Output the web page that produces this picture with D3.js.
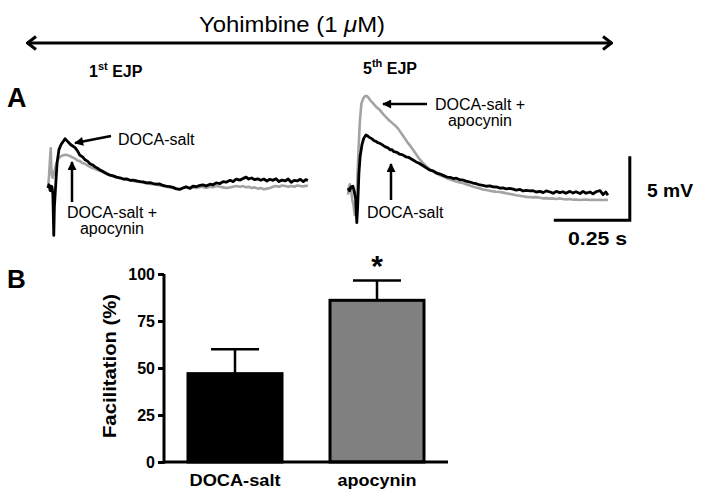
<!DOCTYPE html>
<html><head><meta charset="utf-8">
<script src="https://cdn.jsdelivr.net/npm/d3@7"></script>
<style>body{margin:0;background:#fff}svg{display:block}text{font-family:"Liberation Sans",Arial,sans-serif}</style>
</head><body><svg id="c" width="702" height="498"></svg>
<script>
// ---------- DATA ----------
// Panel A traces: [time (ms), membrane potential (mV) relative to baseline]
const ejp1Doca = [[0,0],[3,0.25],[7,-0.2],[10,0.15],[13,0.1],[16,-0.5],[19,-3.7],[21,-1.5],[26,0.5],[30,2.0],[36,3.0],[43,3.4],[49,3.6],[56,3.85],[62,3.7],[68,3.55],[74,3.4],[80,3.3],[89,3.15],[97,2.9],[105,2.55],[113,2.45],[122,2.2],[130,2.1],[138,1.9],[147,1.8],[155,1.65],[163,1.55],[171,1.4],[180,1.3],[188,1.2],[196,1.1],[204,1.0],[215,0.95],[225,0.85],[237,0.8],[248,0.7],[258,0.72],[270,0.6],[280,0.62],[292,0.55],[303,0.5],[313,0.48],[324,0.4],[336,0.42],[346,0.35],[357,0.3],[368,0.32],[378,0.2],[388,0.15],[401,0.1],[411,0.05],[421,-0.05],[434,-0.1],[444,0.0],[454,0.1],[467,-0.02],[477,0.15],[487,0.1],[500,0.2],[510,0.25],[520,0.15],[533,0.3],[543,0.25],[553,0.4],[566,0.35],[576,0.5],[586,0.45],[599,0.6],[609,0.5],[619,0.7],[632,0.62],[642,0.75],[652,0.85],[660,0.7],[670,0.78],[680,0.65],[690,0.72],[700,0.6],[710,0.7],[720,0.55],[730,0.68],[740,0.6],[750,0.72],[760,0.5],[770,0.62],[780,0.55],[790,0.7],[800,0.45],[810,0.6],[820,0.55],[830,0.68],[840,0.5],[848,0.65],[855,0.6]];
const ejp1Apo = [[0,0],[3,0.8],[6,2.0],[9,3.1],[11,1.5],[13,1.0],[16,0.8],[20,1.2],[26,1.8],[33,2.25],[40,2.45],[49,2.55],[59,2.6],[66,2.55],[72,2.5],[80,2.4],[89,2.3],[97,2.15],[105,2.1],[113,1.95],[122,1.9],[130,1.75],[138,1.65],[147,1.55],[155,1.5],[163,1.4],[171,1.35],[180,1.25],[188,1.15],[196,1.05],[204,1.0],[215,0.9],[225,0.85],[237,0.75],[248,0.7],[258,0.65],[270,0.6],[280,0.55],[292,0.5],[303,0.48],[313,0.42],[324,0.38],[336,0.32],[346,0.3],[357,0.25],[368,0.2],[378,0.15],[388,0.1],[401,0.05],[411,0.0],[421,-0.08],[434,-0.12],[444,0.0],[454,0.05],[467,-0.05],[477,0.05],[487,0.0],[500,0.08],[510,0.1],[520,0.0],[533,0.12],[543,0.05],[553,0.15],[566,0.1],[576,0.05],[586,0.0],[599,0.05],[609,0.1],[619,0.15],[632,0.1],[642,0.15],[652,0.05],[660,0.1],[670,0.0],[680,0.05],[690,-0.05],[700,0.0],[710,-0.1],[720,-0.05],[730,0.0],[740,0.1],[750,0.15],[760,0.1],[770,0.2],[780,0.15],[790,0.1],[800,0.15],[810,0.1],[820,0.2],[830,0.15],[840,0.12],[848,0.18],[855,0.15]];
const ejp5Doca = [[0,0.3],[5,0.1],[10,0.4],[16,0.45],[20,0.1],[25,-0.5],[29,-2.4],[32,-1.0],[36,1.5],[40,2.8],[46,3.7],[52,4.2],[59,4.45],[66,4.35],[72,4.25],[79,4.15],[86,4.0],[92,3.95],[99,3.85],[105,3.8],[112,3.7],[118,3.6],[125,3.5],[132,3.45],[138,3.3],[145,3.3],[151,3.15],[161,3.1],[170,2.95],[180,2.9],[190,2.75],[200,2.7],[214,2.5],[224,2.35],[234,2.25],[247,2.05],[260,1.85],[270,1.7],[280,1.65],[290,1.5],[303,1.4],[313,1.3],[326,1.17],[336,1.15],[346,1.05],[356,1.08],[368,0.95],[378,0.94],[388,0.85],[401,0.78],[411,0.7],[421,0.65],[434,0.55],[444,0.52],[454,0.45],[467,0.48],[477,0.4],[490,0.39],[500,0.3],[510,0.33],[520,0.25],[533,0.28],[543,0.23],[553,0.15],[566,0.2],[576,0.08],[586,0.12],[599,0.08],[609,0.1],[619,0.0],[632,0.05],[642,-0.05],[652,0.08],[665,0.0],[675,-0.1],[685,0.05],[697,-0.05],[707,0.02],[717,-0.1],[730,0.05],[740,-0.08],[750,0.02],[763,-0.12],[773,0.05],[783,-0.1],[796,0.0],[806,-0.15],[816,0.02],[829,0.1],[839,-0.2],[848,0.0],[855,-0.25]];
const ejp5Apo = [[0,-0.2],[3,0.4],[6,0.6],[10,0.2],[14,-0.6],[18,-1.0],[22,-1.8],[26,-1.2],[30,0.5],[34,3.0],[39,5.5],[44,6.9],[50,7.3],[56,7.5],[62,7.5],[68,7.35],[75,7.1],[82,6.95],[89,6.75],[95,6.6],[105,6.4],[115,6.1],[125,5.85],[135,5.6],[145,5.4],[155,5.2],[165,4.95],[175,4.6],[185,4.25],[195,3.9],[205,3.6],[214,3.3],[224,2.95],[234,2.6],[247,2.25],[260,1.95],[270,1.75],[280,1.6],[290,1.45],[303,1.3],[313,1.2],[323,1.1],[336,0.98],[346,0.9],[356,0.82],[368,0.75],[378,0.7],[388,0.6],[401,0.5],[411,0.42],[421,0.35],[434,0.28],[444,0.2],[454,0.15],[467,0.1],[477,0.05],[487,0.02],[500,0.0],[510,-0.05],[520,-0.1],[533,-0.15],[543,-0.2],[553,-0.25],[566,-0.3],[576,-0.33],[586,-0.38],[599,-0.4],[609,-0.42],[619,-0.4],[632,-0.45],[642,-0.5],[652,-0.48],[665,-0.52],[675,-0.5],[685,-0.55],[697,-0.5],[707,-0.55],[717,-0.58],[730,-0.55],[740,-0.6],[750,-0.58],[763,-0.62],[773,-0.6],[783,-0.58],[796,-0.62],[806,-0.6],[816,-0.63],[829,-0.6],[839,-0.62],[848,-0.6],[855,-0.62]];
const scaleBarTimeMs = 250;
const scaleBarMv = 5;

// Panel B
const groups = ["DOCA-salt", "apocynin"];
const facilitation = [47, 86];
const facilitationSem = [13, 10.5];
const yTicks = [0, 25, 50, 75, 100];

// ---------- DRAW ----------
const svg = d3.select("#c");
const defs = svg.append("defs");
defs.append("marker").attr("id","tri").attr("viewBox","0 0 10 10").attr("refX",9).attr("refY",5)
  .attr("markerWidth",11).attr("markerHeight",9).attr("markerUnits","userSpaceOnUse").attr("orient","auto")
  .append("path").attr("d","M0,0L10,5L0,10z").attr("fill","#000");
defs.append("marker").attr("id","chev").attr("viewBox","0 0 12 16").attr("refX",11).attr("refY",8)
  .attr("markerWidth",12).attr("markerHeight",16).attr("markerUnits","userSpaceOnUse").attr("orient","auto-start-reverse")
  .append("path").attr("d","M2,1.5L10.5,8L2,14.5").attr("fill","none").attr("stroke","#000").attr("stroke-width",3);

// Top Yohimbine arrow
svg.append("line").attr("x1",27).attr("x2",612).attr("y1",43).attr("y2",43)
  .attr("stroke","#000").attr("stroke-width",3)
  .attr("marker-start","url(#chev)").attr("marker-end","url(#chev)");
const yo = svg.append("text").attr("x",199).attr("y",32).attr("font-size",22)
  .attr("textLength",186).attr("lengthAdjust","spacingAndGlyphs");
yo.append("tspan").text("Yohimbine (1 ");
yo.append("tspan").attr("font-style","italic").text("\u03bc");
yo.append("tspan").text("M)");

function ejpLabel(x, y, num, sup) {
  const t = svg.append("text").attr("x",x).attr("y",y).attr("font-size",16).attr("font-weight","bold");
  t.append("tspan").text(num);
  t.append("tspan").attr("font-size",11).attr("dy",-7).text(sup);
  t.append("tspan").attr("dy",7).text(" EJP");
}
ejpLabel(89, 77, "1", "st");
ejpLabel(363, 74, "5", "th");

svg.append("text").attr("x",7).attr("y",107).attr("font-size",27).attr("font-weight","bold").text("A");
svg.append("text").attr("x",7).attr("y",288).attr("font-size",26).attr("font-weight","bold").text("B");

// Traces
const pxPerMs = 76 / scaleBarTimeMs, pxPerMv = 64 / scaleBarMv;
const panels = [
  {x0:48, base:188, doca:ejp1Doca, apo:ejp1Apo},
  {x0:348, base:192, doca:ejp5Doca, apo:ejp5Apo}
];
panels.forEach(p => {
  p.tx = d3.scaleLinear().domain([0, scaleBarTimeMs]).range([p.x0, p.x0 + scaleBarTimeMs*pxPerMs]);
  p.vy = d3.scaleLinear().domain([0, scaleBarMv]).range([p.base, p.base - scaleBarMv*pxPerMv]);
  const line = d3.line().x(d => p.tx(d[0])).y(d => p.vy(d[1]));
  svg.append("path").datum(p.apo).attr("d", line).attr("fill","none").attr("stroke","#a3a3a3")
    .attr("stroke-width",2.6).attr("stroke-linejoin","round");
  svg.append("path").datum(p.doca).attr("d", line).attr("fill","none").attr("stroke","#000")
    .attr("stroke-width",2.8).attr("stroke-linejoin","round");
});

// Scale bar (uses 5th EJP panel scales)
const sp = panels[1];
const sbT1 = 927, sbT0 = sbT1 - scaleBarTimeMs, sbV0 = -2.2, sbV1 = sbV0 + scaleBarMv;
svg.append("path").attr("d", `M${sp.tx(sbT0)},${sp.vy(sbV0)}H${sp.tx(sbT1)}V${sp.vy(sbV1)}`)
  .attr("fill","none").attr("stroke","#000").attr("stroke-width",3);
svg.append("text").attr("x",647).attr("y",197).attr("font-size",19).attr("font-weight","bold")
  .attr("textLength",46).attr("lengthAdjust","spacingAndGlyphs").text("5 mV");
svg.append("text").attr("x",568).attr("y",245).attr("font-size",19).attr("font-weight","bold")
  .attr("textLength",59).attr("lengthAdjust","spacingAndGlyphs").text("0.25 s");

// Annotations
function arrow(x1,y1,x2,y2){
  svg.append("line").attr("x1",x1).attr("y1",y1).attr("x2",x2).attr("y2",y2)
    .attr("stroke","#000").attr("stroke-width",2.5).attr("marker-end","url(#tri)");
}
function label(x,y,lines,anchor){
  const t = svg.append("text").attr("x",x).attr("y",y).attr("font-size",16).attr("text-anchor",anchor||"start");
  lines.forEach((s,i)=> t.append("tspan").attr("x",x).attr("dy", i?16:0).text(s));
}
arrow(111,136,75,143);
label(118,145,["DOCA-salt"]);
arrow(72,202,72,162);
label(112,218,["DOCA-salt +","apocynin"],"middle");
arrow(427,104,383,104);
label(480,110,["DOCA-salt +","apocynin"],"middle");
arrow(391,200,391,164);
label(367,218,["DOCA-salt"]);

// Bar chart
const x = d3.scaleBand().domain(groups).range([164, 448]).paddingInner(0.338).paddingOuter(0.169);
const y = d3.scaleLinear().domain([0, 100]).range([462, 274]);
const g = svg.append("g");
const fills = ["#000000", "#808080"];
const catWidths = [91, 79];
groups.forEach((c,i) => {
  const cx = x(c) + x.bandwidth()/2;
  g.append("path").attr("d", `M${cx},${y(facilitation[i])}V${y(facilitation[i]+facilitationSem[i])}M${cx-24},${y(facilitation[i]+facilitationSem[i])}H${cx+24}`)
    .attr("stroke","#000").attr("stroke-width",2.5).attr("fill","none");
  g.append("rect").attr("x", x(c)).attr("y", y(facilitation[i])).attr("width", x.bandwidth())
    .attr("height", y(0) - y(facilitation[i])).attr("fill", fills[i]).attr("stroke","#000").attr("stroke-width",3);
  g.append("text").attr("x",cx).attr("y",486).attr("text-anchor","middle").attr("font-size",16)
    .attr("font-weight","bold").attr("textLength",catWidths[i]).attr("lengthAdjust","spacingAndGlyphs").text(c);
});
// x baseline
g.append("line").attr("x1",164).attr("x2",448).attr("y1",y(0)).attr("y2",y(0)).attr("stroke","#000").attr("stroke-width",3);
// y axis
const yAxis = g.append("g").attr("transform","translate(164,0)")
  .call(d3.axisLeft(y).tickValues(yTicks).tickSize(6).tickPadding(3));
yAxis.select(".domain").attr("stroke-width",3).attr("d", `M0,${y(0)+1.5}V${y(100)}`);
yAxis.selectAll(".tick line").attr("stroke-width",3);
yAxis.selectAll(".tick text").attr("font-size",16).attr("font-weight","bold")
  .attr("font-family","\"Liberation Sans\",Arial,sans-serif").attr("fill","#000");
g.append("text").attr("transform","translate(116,366) rotate(-90)").attr("text-anchor","middle")
  .attr("font-size",18).attr("font-weight","bold").attr("textLength",144).attr("lengthAdjust","spacingAndGlyphs")
  .text("Facilitation (%)");
// significance star
g.append("text").attr("x", x("apocynin") + x.bandwidth()/2).attr("y", 276).attr("text-anchor","middle")
  .attr("font-size",30).attr("font-weight","bold").text("*");
</script></body></html>
